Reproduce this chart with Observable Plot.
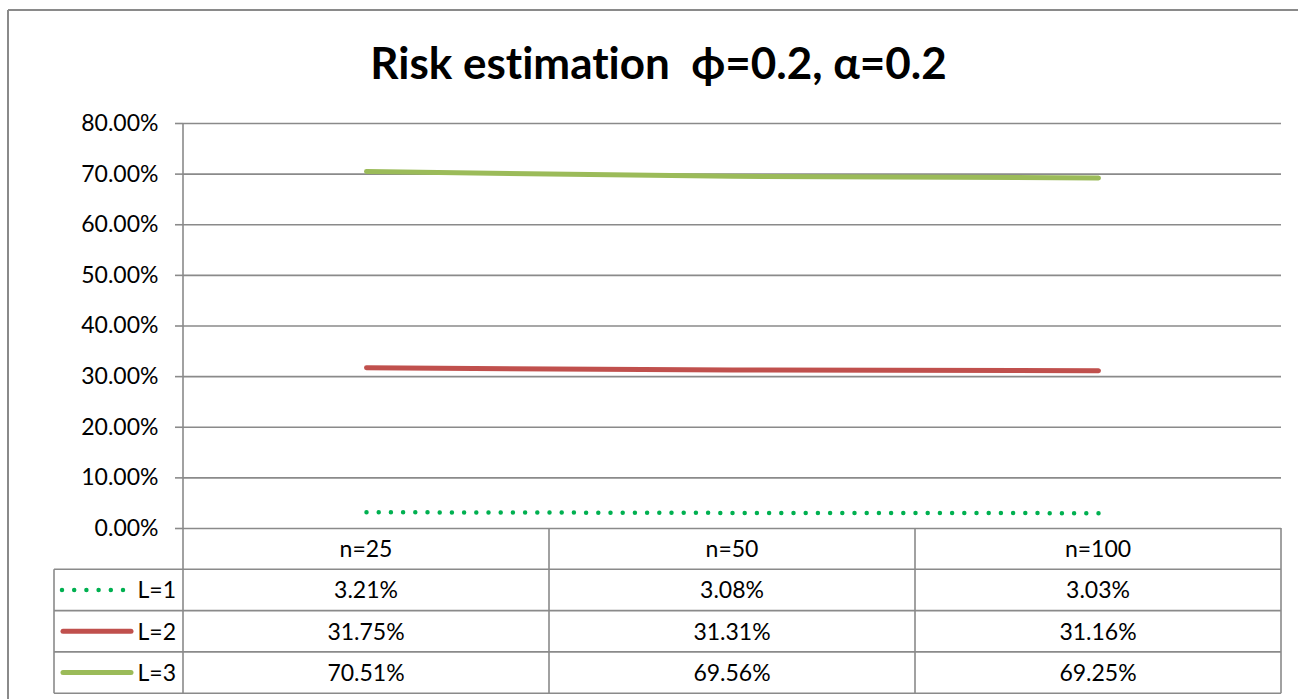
<!DOCTYPE html>
<html><head><meta charset="utf-8">
<script src="https://cdn.jsdelivr.net/npm/d3@7"></script>
<script src="https://cdn.jsdelivr.net/npm/@observablehq/plot@0.6"></script>
<style>
body{margin:0;background:#fff}
#chart svg{font-family:Lato,"Open Sans",sans-serif;overflow:visible;display:block;font-variant-ligatures:none;font-feature-settings:"liga" 0}
</style>
</head><body><div id="chart"></div>
<script>
const title = "Risk estimation  ϕ=0.2, α=0.2";
const categories = ["n=25", "n=50", "n=100"];
const seriesNames = ["L=1", "L=2", "L=3"];
const valuesL1 = [0.0321, 0.0308, 0.0303];
const valuesL2 = [0.3175, 0.3131, 0.3116];
const valuesL3 = [0.7051, 0.6956, 0.6925];
const yTicks = [0, 0.1, 0.2, 0.3, 0.4, 0.5, 0.6, 0.7, 0.8];
const colors = ["#00B050", "#C0504D", "#9BBB59"];

const seriesValues = [valuesL1, valuesL2, valuesL3];
const data = seriesNames.flatMap((s, i) => categories.map((c, j) => ({series: s, cat: c, value: seriesValues[i][j]})));
const fmt = d3.format(".2%");
const gridColor = "#8a8a8a";

const plot = Plot.plot({
  width: 1298,
  height: 699,
  marginTop: 123,
  marginBottom: 171,
  marginLeft: 183,
  marginRight: 17,
  x: {type: "point", domain: categories, padding: 0.5, axis: null},
  y: {domain: [0, 0.8]},
  marks: [
    Plot.gridY(yTicks, {stroke: gridColor, strokeOpacity: 1, strokeWidth: 1.6}),
    Plot.axisY(yTicks, {label: null, tickFormat: fmt, tickSize: 8, tickPadding: 17, fontSize: 23, stroke: gridColor, fill: "#000", strokeWidth: 1.6}),
    Plot.lineY(data.filter(d => d.series === "L=1"), {x: "cat", y: "value", stroke: colors[0], strokeWidth: 4.5, strokeDasharray: "0 12.2", strokeLinecap: "round"}),
    Plot.lineY(data.filter(d => d.series === "L=2"), {x: "cat", y: "value", stroke: colors[1], strokeWidth: 5, strokeLinecap: "round"}),
    Plot.lineY(data.filter(d => d.series === "L=3"), {x: "cat", y: "value", stroke: colors[2], strokeWidth: 5, strokeLinecap: "round"}),
    Plot.text([title], {frameAnchor: "top", dx: -74, dy: -76, fontSize: 44, fontWeight: "bold", fill: "#000"})
  ]
});
document.getElementById("chart").appendChild(plot);

// data table and chart border
const svg = d3.select(plot);
const xs = plot.scale("x");
const ys = plot.scale("y");
const centers = categories.map(c => xs.apply(c));
const step = centers[1] - centers[0];
const left = centers[0] - step / 2;
const right = centers[centers.length - 1] + step / 2;
const y0 = ys.apply(0);
const rowH = 41.3;
const legendLeft = 54;
const g = svg.append("g");
const line = (x1, y1, x2, y2, extra = {}) => {
  const l = g.append("line").attr("x1", x1).attr("y1", y1).attr("x2", x2).attr("y2", y2)
    .attr("stroke", extra.stroke || gridColor).attr("stroke-width", extra.width || 1.6);
  if (extra.dash) l.attr("stroke-dasharray", extra.dash).attr("stroke-linecap", "round");
  if (extra.cap) l.attr("stroke-linecap", extra.cap);
  return l;
};
// chart border
line(8, 10, 1298, 10, {width: 2});
line(8, 10, 8, 699, {width: 2});
// y axis line through table
line(left, ys.apply(0.8), left, y0 + 4 * rowH);
// vertical lines of table
centers.map(c => c + step / 2).forEach(x => line(x, y0, x, y0 + 4 * rowH));
line(legendLeft, y0 + rowH, legendLeft, y0 + 4 * rowH);
for (let k = 1; k <= 4; k++) line(legendLeft, y0 + k * rowH, right, y0 + k * rowH);
// header
categories.forEach((c, j) => {
  g.append("text").attr("x", centers[j]).attr("y", y0 + rowH / 2).attr("dy", "0.36em")
    .attr("text-anchor", "middle").attr("font-size", 23).attr("fill", "#000").text(c);
});
// rows
seriesNames.forEach((s, i) => {
  const cy = y0 + rowH * (i + 1) + rowH / 2;
  seriesValues[i].forEach((v, j) => {
    g.append("text").attr("x", centers[j]).attr("y", cy).attr("dy", "0.36em")
      .attr("text-anchor", "middle").attr("font-size", 23).attr("fill", "#000").text(fmt(v));
  });
  g.append("text").attr("x", left - 7).attr("y", cy).attr("dy", "0.36em")
    .attr("text-anchor", "end").attr("font-size", 23).attr("fill", "#000").text(s);
  if (i === 0) line(62, cy, 125, cy, {stroke: colors[0], width: 4.5, dash: "0 12.2"});
  else line(63, cy, 131, cy, {stroke: colors[i], width: 5, cap: "round"});
});
</script>
</body></html>
